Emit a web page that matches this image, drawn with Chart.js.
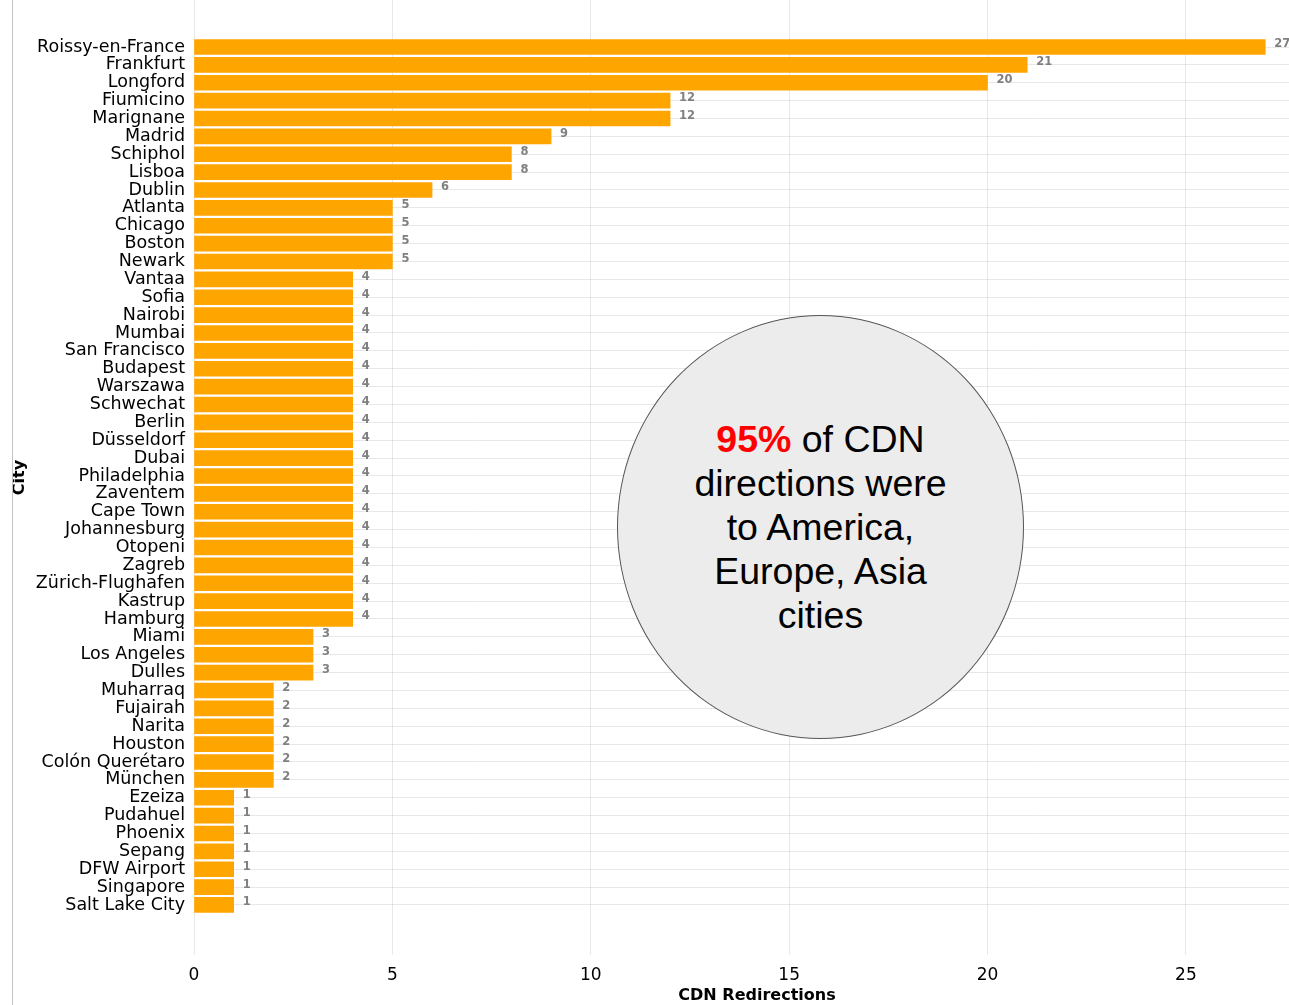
<!DOCTYPE html>
<html>
<head>
<meta charset="utf-8">
<script src="https://cdn.jsdelivr.net/npm/chart.js@4/dist/chart.umd.min.js"></script>
<style>
  html, body { margin: 0; padding: 0; background: #fff; overflow: hidden; }
  #wrap { position: relative; width: 1289px; height: 1005px; overflow: hidden; }
  #box { position: absolute; left: 0; top: 0; width: 1320px; height: 1005px; }
  #frame { position: absolute; left: 12px; top: 0; width: 1px; height: 1005px; background: #c4c4c4; }
  #note {
    position: absolute; left: 617px; top: 315px; width: 405px; height: 422px;
    border: 1.5px solid #555; border-radius: 50%; background: #ececec;
    display: flex; align-items: center; justify-content: center; text-align: center;
    font-family: "Liberation Sans", Arial, sans-serif; font-size: 37.5px; line-height: 44px; color: #000;
  }
  #note b { color: #ff0000; }
</style>
</head>
<body>
<div id="wrap">
  <div id="box"><canvas id="myChart" width="1320" height="1005"></canvas></div>
  <div id="frame"></div>
  <div id="note"><div><b>95%</b> of CDN<br>directions were<br>to America,<br>Europe, Asia<br>cities</div></div>
</div>
<script>
// ciudades (de arriba hacia abajo) y cantidad de redirecciones
const ciudades = ["Roissy-en-France", "Frankfurt", "Longford", "Fiumicino", "Marignane", "Madrid",
  "Schiphol", "Lisboa", "Dublin", "Atlanta", "Chicago", "Boston", "Newark", "Vantaa", "Sofia",
  "Nairobi", "Mumbai", "San Francisco", "Budapest", "Warszawa", "Schwechat", "Berlin",
  "Düsseldorf", "Dubai", "Philadelphia", "Zaventem", "Cape Town", "Johannesburg", "Otopeni",
  "Zagreb", "Zürich-Flughafen", "Kastrup", "Hamburg", "Miami", "Los Angeles", "Dulles",
  "Muharraq", "Fujairah", "Narita", "Houston", "Colón Querétaro", "München", "Ezeiza",
  "Pudahuel", "Phoenix", "Sepang", "DFW Airport", "Singapore", "Salt Lake City"];
const redirecciones = [27, 21, 20, 12, 12, 9, 8, 8, 6, 5, 5, 5, 5, 4, 4, 4, 4, 4, 4, 4, 4, 4,
  4, 4, 4, 4, 4, 4, 4, 4, 4, 4, 4, 3, 3, 3, 2, 2, 2, 2, 2, 2, 1, 1, 1, 1, 1, 1, 1];
const ticksX = [0, 5, 10, 15, 20, 25];

const datos = redirecciones.map((v, i) => ({ x: v, y: i }));
const gris = 'rgba(0,0,0,0.09)';

// etiquetas grises al final de cada barra
const etiquetasValor = {
  id: 'etiquetasValor',
  afterDatasetsDraw(chart) {
    const ctx = chart.ctx;
    const meta = chart.getDatasetMeta(0);
    ctx.save();
    ctx.font = 'bold 11.5px "DejaVu Sans"';
    ctx.fillStyle = '#808080';
    ctx.textAlign = 'left';
    ctx.textBaseline = 'middle';
    meta.data.forEach((bar, i) => {
      ctx.fillText(String(redirecciones[i]), bar.x + 9, bar.y - 2.5);
    });
    ctx.restore();
  }
};

new Chart(document.getElementById('myChart'), {
  type: 'bar',
  data: {
    datasets: [{
      data: datos,
      backgroundColor: '#FFA500',
      borderWidth: 0,
      barThickness: 15
    }]
  },
  options: {
    indexAxis: 'y',
    responsive: false,
    animation: false,
    layout: { padding: 0 },
    plugins: { legend: { display: false }, tooltip: { enabled: false } },
    scales: {
      x: {
        type: 'linear',
        min: 0,
        max: 28.38,
        z: 1,
        afterBuildTicks: (s) => { s.ticks = ticksX.map(v => ({ value: v })); },
        afterFit: (s) => { s.height = 50; s.paddingLeft = 0; s.paddingRight = 0; },
        grid: { color: gris, drawTicks: false },
        border: { display: false },
        ticks: { color: '#000', font: { family: 'DejaVu Sans', size: 17 }, padding: 10 },
        title: { display: true, text: 'CDN Redirections', color: '#000',
                 font: { family: 'DejaVu Sans', size: 16, weight: 'bold' }, padding: 0 }
      },
      y: {
        type: 'linear',
        reverse: true,
        offset: false,
        min: -2.63,
        max: 50.8,
        z: 1,
        afterBuildTicks: (s) => { s.ticks = ciudades.map((c, i) => ({ value: i })); },
        afterFit: (s) => { s.width = 194; s.paddingTop = 0; s.paddingBottom = 0; },
        grid: { color: gris, drawTicks: false, offset: false },
        border: { display: false },
        ticks: {
          autoSkip: false,
          color: '#000',
          font: { family: 'DejaVu Sans', size: 17.5, lineHeight: 1 },
          padding: 9,
          callback: (v) => ciudades[v]
        },
        title: { display: true, text: 'City', color: '#000',
                 font: { family: 'DejaVu Sans', size: 16, weight: 'bold' }, padding: { top: 10 } }
      }
    }
  },
  plugins: [etiquetasValor]
});
</script>
</body>
</html>
